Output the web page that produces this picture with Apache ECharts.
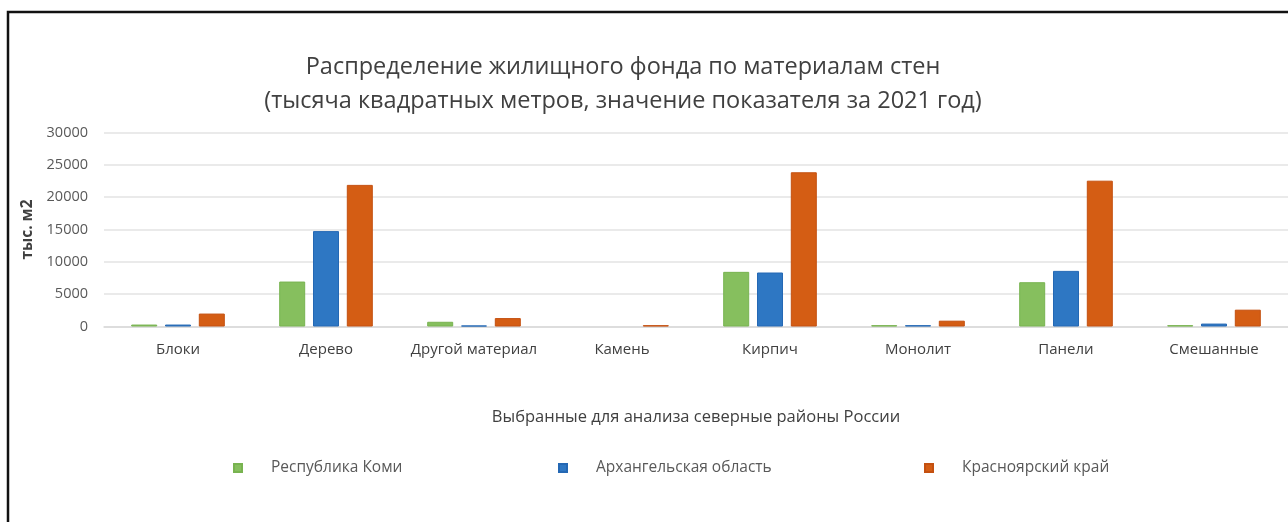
<!DOCTYPE html>
<html>
<head>
<meta charset="utf-8">
<script src="https://cdn.jsdelivr.net/npm/echarts@6/dist/echarts.min.js"></script>
<style>
html,body{margin:0;padding:0;background:#fff;}
#c{width:1288px;height:522px;}
</style>
</head>
<body>
<div id="c"></div>
<script>
const categories = ['Блоки','Дерево','Другой материал','Камень','Кирпич','Монолит','Панели','Смешанные'];
const seriesNames = ['Республика Коми','Архангельская область','Красноярский край'];
const komi = [300, 6950, 730, null, 8450, 200, 6850, 200];
const arkh = [300, 14750, 150, null, 8350, 200, 8600, 450];
const krasn = [2000, 21900, 1300, 200, 23850, 900, 22550, 2600];
const yTicks = [0, 5000, 10000, 15000, 20000, 25000, 30000];

const colors = ['#86bf5e', '#2e77c3', '#d45d14'];
const borders = ['#78b350', '#2468b4', '#c45010'];
const FONT = '"Open Sans", "Noto Sans", sans-serif';

const chart = echarts.init(document.getElementById('c'), null, {renderer:'canvas'});
const data = [komi, arkh, krasn];
const legendLefts = [228, 553, 919];

chart.setOption({
  animation:false,
  backgroundColor:'#ffffff',
  title:{
    text:'Распределение жилищного фонда по материалам стен\n(тысяча квадратных метров, значение показателя за 2021 год)',
    left:618, top:45, textAlign:'center',
    textStyle:{fontFamily:FONT, fontSize:23.5, fontWeight:'normal', color:'#404040', lineHeight:34}
  },
  legend: seriesNames.map((n,i)=>({
    data:[n], left:legendLefts[i], top:455, itemWidth:8, itemHeight:8,
    icon:'rect',
    textStyle:{fontFamily:FONT, fontSize:15.5, color:'#595959', padding:[0,0,0,24]}
  })),
  grid:{left:104, top:132.5, width:1197, height:194, containLabel:false},
  xAxis:{
    type:'category', data:categories,
    name:'Выбранные для анализа северные районы России',
    nameLocation:'middle', nameGap:82,
    nameTextStyle:{fontFamily:FONT, fontSize:16.5, color:'#404040'},
    axisLine:{lineStyle:{color:'#d9d9d9', width:1.5}},
    axisTick:{show:false},
    axisLabel:{fontFamily:FONT, fontSize:15, color:'#404040', margin:16, interval:0}
  },
  yAxis:{
    type:'value', min:0, max:30000, interval:5000,
    name:'тыс. м2', nameLocation:'middle', nameGap:68, nameRotate:90,
    nameTextStyle:{fontFamily:FONT, fontSize:15.5, color:'#404040', fontWeight:'bold'},
    axisLine:{show:false}, axisTick:{show:false},
    axisLabel:{fontFamily:FONT, fontSize:14.5, color:'#595959', margin:16,
      formatter:(v)=> yTicks.includes(v) ? String(v) : ''},
    splitLine:{lineStyle:{color:'#e3e3e3', width:1.5}}
  },
  series: seriesNames.map((n,i)=>({
    name:n, type:'bar', data:data[i], barWidth:26, barGap:'30%',
    itemStyle:{color:colors[i], borderColor:borders[i], borderWidth:1}
  })),
  graphic:[{
    type:'polyline', silent:true,
    shape:{points:[[8,522],[8,12],[1288,12]]},
    style:{stroke:'#111111', lineWidth:2.5, fill:null}
  }]
});
</script>
</body>
</html>
